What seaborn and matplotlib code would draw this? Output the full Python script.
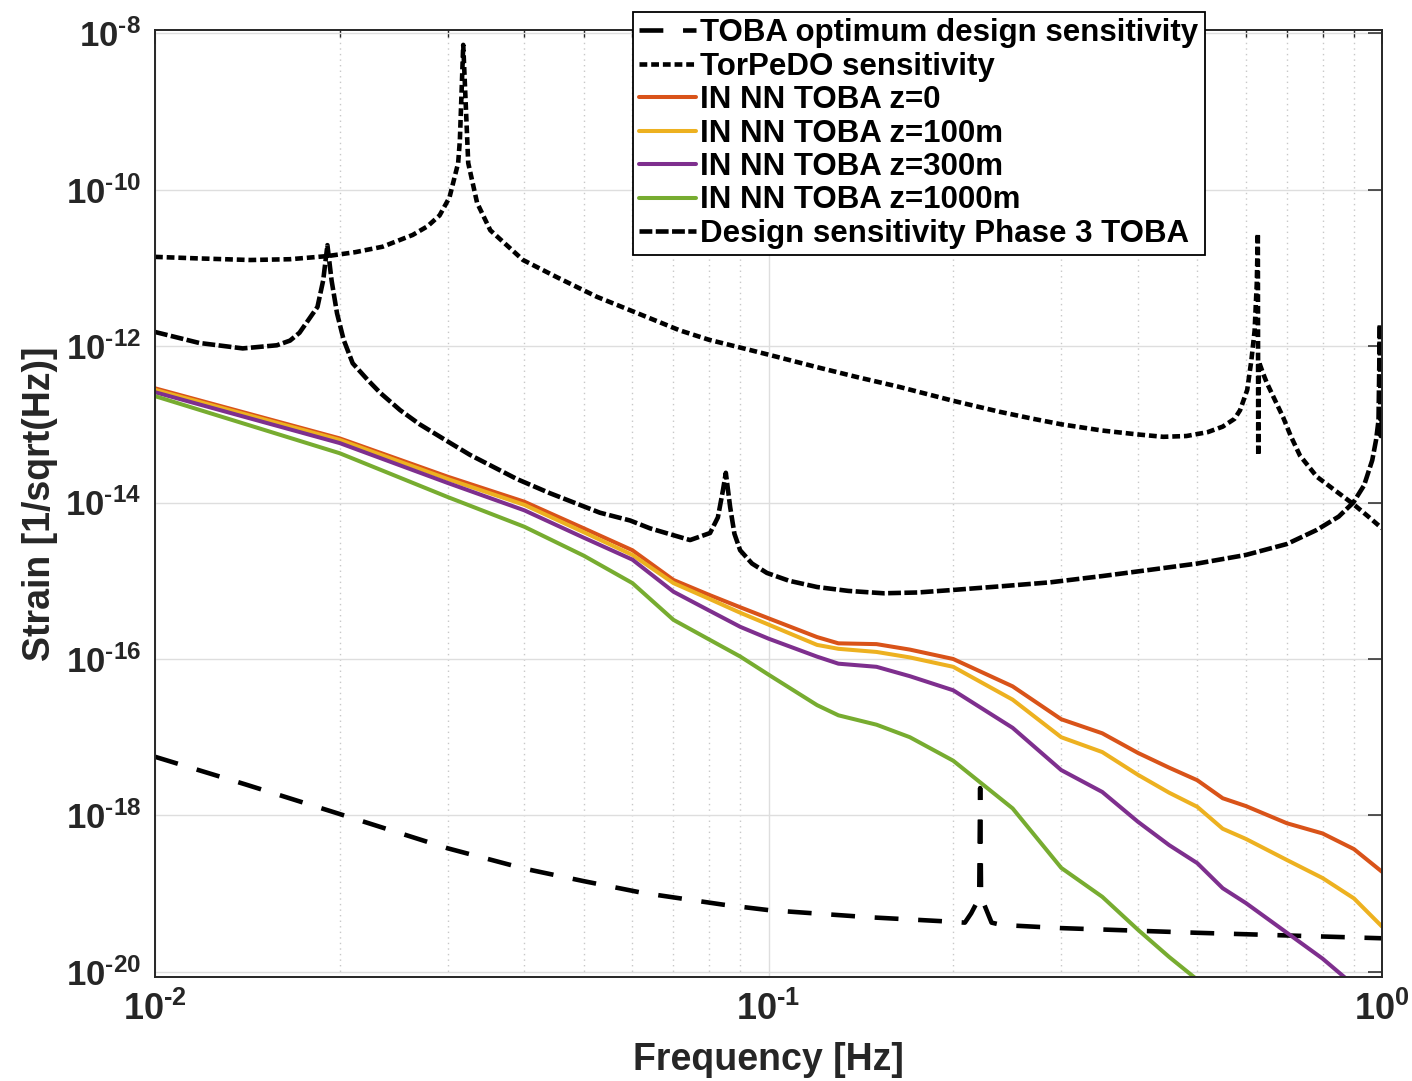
import numpy as np
import pandas as pd
import matplotlib
matplotlib.use("Agg")
import matplotlib.pyplot as plt
import seaborn as sns
from matplotlib.ticker import FixedLocator, LogLocator, NullFormatter, NullLocator

# ---------------------------------------------------------------------------
# Data (frequency in Hz, strain amplitude given as log10 of 1/sqrt(Hz))
# ---------------------------------------------------------------------------

# TOBA optimum design sensitivity
opt_freq = [0.010, 0.0140, 0.0196, 0.030, 0.040, 0.050, 0.0624, 0.0843, 0.100, 0.145,
            0.190, 0.209, 0.214, 0.218, 0.2205, 0.2213, 0.2221, 0.225, 0.231,
            0.240, 0.300, 0.500, 1.000]
opt_log10 = [-17.25, -17.60, -17.96, -18.42, -18.68, -18.84, -18.99, -19.14, -19.21, -19.30,
             -19.35, -19.37, -19.25, -19.13, -19.10, -17.65, -19.10, -19.15, -19.37,
             -19.40, -19.44, -19.50, -19.57]

# TorPeDO sensitivity
tor_freq = [0.0100, 0.0118, 0.0143, 0.0166, 0.0191, 0.0212, 0.0235, 0.0263, 0.0278, 0.0291,
            0.0302, 0.0312, 0.0314, 0.0318, 0.0324, 0.0335, 0.0352, 0.0398, 0.0452, 0.0525,
            0.0634, 0.0717, 0.0800, 0.0900, 0.1000, 0.1200, 0.1400, 0.1630, 0.2000, 0.2380,
            0.2700, 0.3000, 0.3500, 0.4000, 0.4400, 0.4800, 0.5200, 0.5500, 0.5750, 0.5870,
            0.6030, 0.6125, 0.6200, 0.6250, 0.6275, 0.6285, 0.6300, 0.6400, 0.6490, 0.6700,
            0.6900, 0.7100, 0.7350, 0.7830, 0.8400, 0.8980, 0.9500, 1.0000]
tor_log10 = [-10.86, -10.88, -10.90, -10.89, -10.85, -10.80, -10.73, -10.58, -10.47, -10.33,
             -10.10, -9.66, -9.37, -8.15, -9.66, -10.17, -10.52, -10.90, -11.12, -11.37,
             -11.63, -11.80, -11.92, -12.02, -12.11, -12.27, -12.40, -12.52, -12.70, -12.84,
             -12.93, -13.00, -13.08, -13.13, -13.16, -13.15, -13.10, -13.03, -12.93, -12.82,
             -12.56, -12.18, -11.80, -11.20, -10.56, -13.40, -12.20, -12.35, -12.47, -12.70,
             -12.91, -13.15, -13.40, -13.67, -13.85, -14.02, -14.18, -14.33]

# Newtonian-noise (IN NN) curves for TOBA at several depths
nn_freq = [0.01, 0.02, 0.03, 0.04, 0.05, 0.06, 0.07, 0.08, 0.09, 0.10,
           0.12, 0.13, 0.15, 0.17, 0.20, 0.25, 0.30, 0.35, 0.40, 0.45,
           0.50, 0.55, 0.60, 0.70, 0.80, 0.90, 1.00]
nn_z0_log10 = [-12.54, -13.18, -13.67, -13.99, -14.33, -14.61, -14.99, -15.18, -15.34, -15.48,
               -15.72, -15.80, -15.81, -15.88, -16.00, -16.35, -16.77, -16.95, -17.20, -17.39,
               -17.55, -17.78, -17.88, -18.10, -18.23, -18.43, -18.72]
nn_z100_log10 = [-12.56, -13.20, -13.70, -14.03, -14.38, -14.67, -15.03, -15.23, -15.41, -15.56,
                 -15.82, -15.87, -15.91, -15.98, -16.10, -16.52, -17.00, -17.19, -17.48, -17.71,
                 -17.89, -18.17, -18.30, -18.57, -18.80, -19.06, -19.42]
nn_z300_log10 = [-12.59, -13.24, -13.75, -14.10, -14.45, -14.73, -15.14, -15.38, -15.59, -15.74,
                 -15.97, -16.06, -16.10, -16.22, -16.40, -16.88, -17.42, -17.70, -18.08, -18.38,
                 -18.61, -18.93, -19.12, -19.50, -19.83, -20.17, -20.50]
nn_z1000_freq = nn_freq[:22]
nn_z1000_log10 = [-12.64, -13.37, -13.93, -14.31, -14.68, -15.03, -15.50, -15.75, -15.97, -16.20,
                  -16.59, -16.72, -16.84, -17.00, -17.30, -17.91, -18.67, -19.04, -19.46, -19.81,
                  -20.10, -20.40]

# Design sensitivity Phase 3 TOBA
p3_freq = [0.0100, 0.0118, 0.0139, 0.0158, 0.0166, 0.0172, 0.0184, 0.0188, 0.0191, 0.0194,
           0.0198, 0.0203, 0.0210, 0.0222, 0.0233, 0.0251, 0.0270, 0.0303, 0.0326, 0.0389,
           0.0440, 0.0531, 0.0595, 0.0641, 0.0745, 0.0803, 0.0827, 0.0843, 0.0852, 0.0866,
           0.0880, 0.0899, 0.0940, 0.0994, 0.1080, 0.1200, 0.1350, 0.1540, 0.1750, 0.1980,
           0.2400, 0.2880, 0.3500, 0.4190, 0.5000, 0.6000, 0.7000, 0.7830, 0.8500, 0.8980,
           0.9350, 0.9640, 0.9780, 0.9870, 0.9920, 0.9950, 1.0000]
p3_log10 = [-11.82, -11.96, -12.03, -11.99, -11.93, -11.83, -11.50, -11.16, -10.71, -11.16,
            -11.58, -11.92, -12.22, -12.43, -12.60, -12.82, -13.00, -13.24, -13.39, -13.70,
            -13.88, -14.13, -14.23, -14.33, -14.48, -14.39, -14.19, -13.84, -13.62, -14.06,
            -14.40, -14.61, -14.78, -14.90, -15.00, -15.08, -15.13, -15.16, -15.15, -15.12,
            -15.07, -15.02, -14.94, -14.86, -14.78, -14.67, -14.53, -14.35, -14.18, -14.00,
            -13.78, -13.46, -13.20, -12.95, -11.72, -13.15, -12.90]

y_tick_exponents = [-20, -18, -16, -14, -12, -10, -8]
x_tick_exponents = [-2, -1, 0]

labels = ["TOBA optimum design sensitivity",
          "TorPeDO sensitivity",
          "IN NN TOBA z=0",
          "IN NN TOBA z=100m",
          "IN NN TOBA z=300m",
          "IN NN TOBA z=1000m",
          "Design sensitivity Phase 3 TOBA"]

# ---------------------------------------------------------------------------
# Style
# ---------------------------------------------------------------------------
sns.set_theme(style="white")
plt.rcParams["font.family"] = ["Liberation Sans", "DejaVu Sans"]
plt.rcParams["font.weight"] = "bold"
plt.rcParams["mathtext.fontset"] = "custom"
plt.rcParams["mathtext.rm"] = "Liberation Sans:bold"
plt.rcParams["mathtext.bf"] = "Liberation Sans:bold"
plt.rcParams["mathtext.it"] = "Liberation Sans:bold"

W, H = 1412, 1081
fig = plt.figure(figsize=(W / 100, H / 100), dpi=100)
ax = fig.add_axes([155 / W, 1 - 977 / H, 1227 / W, 947 / H])
ax.set_xscale("log")
ax.set_yscale("log")


def curve(freq, log10_vals):
    return pd.DataFrame({"f": freq, "h": 10.0 ** np.asarray(log10_vals)})


BLACK_LW = 3.3
COLOR_LW = 2.9

series = [
    (curve(opt_freq, opt_log10), "black", BLACK_LW, (0, (5.2, 4.3))),
    (curve(tor_freq, tor_log10), "black", BLACK_LW, (0, (1.7, 0.85))),
    (curve(nn_freq, nn_z0_log10), "#D95319", COLOR_LW, "-"),
    (curve(nn_freq, nn_z100_log10), "#EDB120", COLOR_LW, "-"),
    (curve(nn_freq, nn_z300_log10), "#7E2F8E", COLOR_LW, "-"),
    (curve(nn_z1000_freq, nn_z1000_log10), "#77AC30", COLOR_LW, "-"),
    (curve(p3_freq, p3_log10), "black", BLACK_LW, (0, (2.8, 0.75))),
]

for (df, color, lw, ls), lab in zip(series, labels):
    sns.lineplot(data=df, x="f", y="h", ax=ax, color=color, lw=lw,
                 linestyle=ls, errorbar=None, sort=False, label=lab, legend=False)

# ---------------------------------------------------------------------------
# Axes, ticks, grid
# ---------------------------------------------------------------------------
ax.set_xlim(1e-2, 1e0)
ax.set_ylim(10 ** -20.065, 10 ** -7.96)


def pow_label(e):
    # short hyphen in the exponent, as in the printed figure
    sign = "\u2010" if e < 0 else ""
    return r"$\mathbf{10^{%s%d}}$" % (sign, abs(e))


ax.yaxis.set_major_locator(FixedLocator([10.0 ** e for e in y_tick_exponents]))
ax.yaxis.set_minor_locator(NullLocator())
ax.set_yticklabels([pow_label(e) for e in y_tick_exponents])

ax.xaxis.set_major_locator(FixedLocator([10.0 ** e for e in x_tick_exponents]))
ax.xaxis.set_minor_locator(LogLocator(base=10, subs=np.arange(2, 10), numticks=20))
ax.xaxis.set_minor_formatter(NullFormatter())
ax.set_xticklabels([pow_label(e) for e in x_tick_exponents])

ax.tick_params(which="both", direction="in", top=True, right=True,
               colors="#262626", labelcolor="#262626")
ax.tick_params(which="major", length=10, width=1.1)
ax.tick_params(which="minor", length=5, width=1.0)
ax.tick_params(axis="y", which="major", labelsize=25, pad=10)
ax.tick_params(axis="x", which="major", labelsize=26, pad=11)

ax.set_axisbelow(True)
ax.grid(which="major", color="#DEDEDE", lw=1.0, ls="-")
ax.grid(which="minor", axis="x", color="#C8C8C8", lw=1.0, ls=(0, (1.0, 3.0)))

for sp in ax.spines.values():
    sp.set_color("#262626")
    sp.set_linewidth(1.4)

ax.set_xlabel("Frequency [Hz]", fontsize=27, fontweight="bold", color="#262626", labelpad=10)
ax.set_ylabel("Strain [1/sqrt(Hz)]", fontsize=27, fontweight="bold", color="#262626", labelpad=5)

# ---------------------------------------------------------------------------
# Legend
# ---------------------------------------------------------------------------
handles, labs = ax.get_legend_handles_labels()
leg = ax.legend(handles, labs, loc="upper left",
                bbox_to_anchor=(633 / W, 1 - 12 / H), bbox_transform=fig.transFigure,
                prop={"size": 22.5, "weight": "bold"},
                frameon=True, fancybox=False, shadow=False, framealpha=1.0,
                edgecolor="black", facecolor="white",
                borderpad=0.2, labelspacing=0.11, handlelength=1.8,
                handletextpad=0.15, borderaxespad=0.0)
leg.get_frame().set_linewidth(1.3)
for t in leg.get_texts():
    t.set_color("black")

fig.savefig("out.png", dpi=100)
